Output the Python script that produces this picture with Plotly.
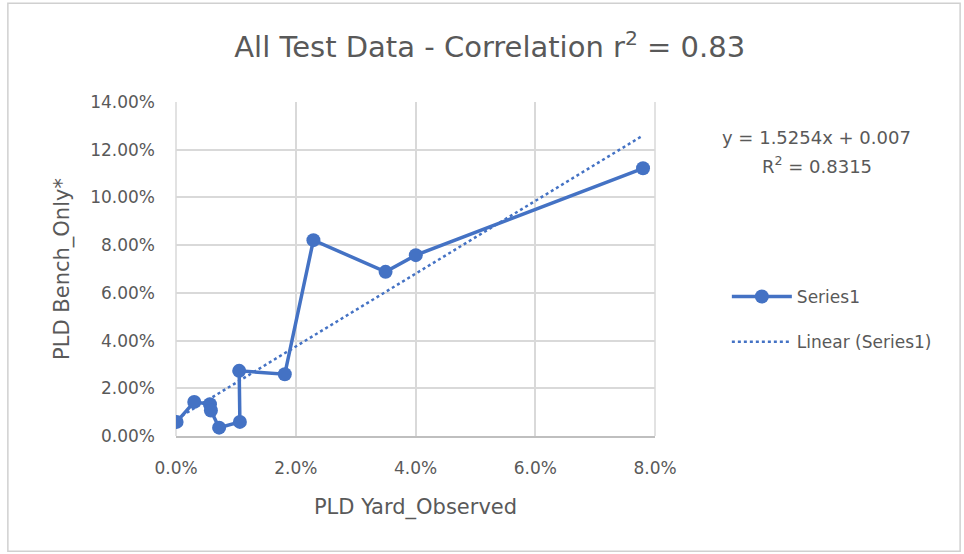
import plotly.graph_objects as go

# Data (fractions)
x_observed = [0.0001, 0.00305, 0.00567, 0.00583, 0.0072, 0.01067, 0.01055, 0.01817, 0.02295, 0.0350, 0.04005, 0.0780]
y_bench = [0.0059, 0.0143, 0.0133, 0.0107, 0.0035, 0.0059, 0.0273, 0.0259, 0.0821, 0.0688, 0.0758, 0.1122]

trend_slope = 1.5254
trend_intercept = 0.007
r_squared = 0.8315

x_tick_vals = [0.0, 0.02, 0.04, 0.06, 0.08]
y_tick_vals = [0.0, 0.02, 0.04, 0.06, 0.08, 0.10, 0.12, 0.14]

BLUE = "#4472C4"
TEXT = "#595959"
GRID = "#d9d9d9"
FONT = "DejaVu Sans"

tx = [min(x_observed), max(x_observed)]
ty = [trend_slope * v + trend_intercept for v in tx]

fig = go.Figure()
fig.add_trace(go.Scatter(
    x=x_observed, y=y_bench, mode="lines+markers", name="Series1", legendgroup="a",
    line=dict(color=BLUE, width=3.5), marker=dict(color=BLUE, size=14),
))
fig.add_trace(go.Scatter(
    x=tx, y=ty, mode="lines", name="Linear (Series1)", legendgroup="b",
    line=dict(color=BLUE, width=2.5, dash="dot"),
))

fig.update_layout(
    width=964, height=554,
    margin=dict(l=176, r=309, t=102, b=118),
    paper_bgcolor="white", plot_bgcolor="white",
    font=dict(family=FONT, color=TEXT, size=17),
    title=dict(text="All Test Data - Correlation r<sup>2</sup> = 0.83",
               x=0.508, xanchor="center", y=0.915, yanchor="middle",
               font=dict(size=29, color=TEXT, family=FONT)),
    showlegend=True,
    legend=dict(x=1.15, y=0.47, xanchor="left", yanchor="top",
                font=dict(size=17, color=TEXT), bgcolor="rgba(0,0,0,0)",
                tracegroupgap=20, itemwidth=60),
    xaxis=dict(range=[0, 0.08], tickvals=x_tick_vals, tickformat=".1%",
               showgrid=True, gridcolor=GRID, gridwidth=1.5,
               showline=True, linecolor="#bfbfbf", linewidth=1.5, mirror=False,
               zeroline=False, ticks="", ticklabelstandoff=16,
               title=dict(text="PLD Yard_Observed", font=dict(size=21, color=TEXT), standoff=22),
               tickfont=dict(size=17, color=TEXT)),
    yaxis=dict(range=[0, 0.14], tickvals=y_tick_vals, tickformat=".2%",
               showgrid=True, gridcolor=GRID, gridwidth=1.5,
               showline=False, zeroline=False, ticks="", ticklabelstandoff=20,
               title=dict(text="PLD Bench_Only*", font=dict(size=21, color=TEXT), standoff=14),
               tickfont=dict(size=17, color=TEXT)),
    annotations=[
        dict(text=f"y = {trend_slope}x + {trend_intercept}",
             xref="paper", yref="paper", x=1.338, y=(435.7 - 137) / 334, xanchor="center", yanchor="middle",
             showarrow=False, font=dict(size=18, color=TEXT, family=FONT)),
        dict(text=f"R<sup>2</sup> = {r_squared}",
             xref="paper", yref="paper", x=1.338, y=(435.7 - 165) / 334, xanchor="center", yanchor="middle",
             showarrow=False, font=dict(size=18, color=TEXT, family=FONT)),
    ],
    shapes=[
        dict(type="rect", xref="paper", yref="paper",
             x0=-0.351, x1=1.637, y0=-0.345, y1=1.296,
             line=dict(color="#d0d0d0", width=1.5), fillcolor="rgba(0,0,0,0)"),
        dict(type="line", xref="paper", yref="paper", x0=0, x1=0, y0=0, y1=1,
             line=dict(color=GRID, width=1.5), layer="below"),
        dict(type="line", xref="paper", yref="paper", x0=1, x1=1, y0=0, y1=1,
             line=dict(color=GRID, width=1.5), layer="below"),
    ],
)

fig.write_html("out.html", config={"displayModeBar": False},
               post_script="document.body.style.margin='0';")
